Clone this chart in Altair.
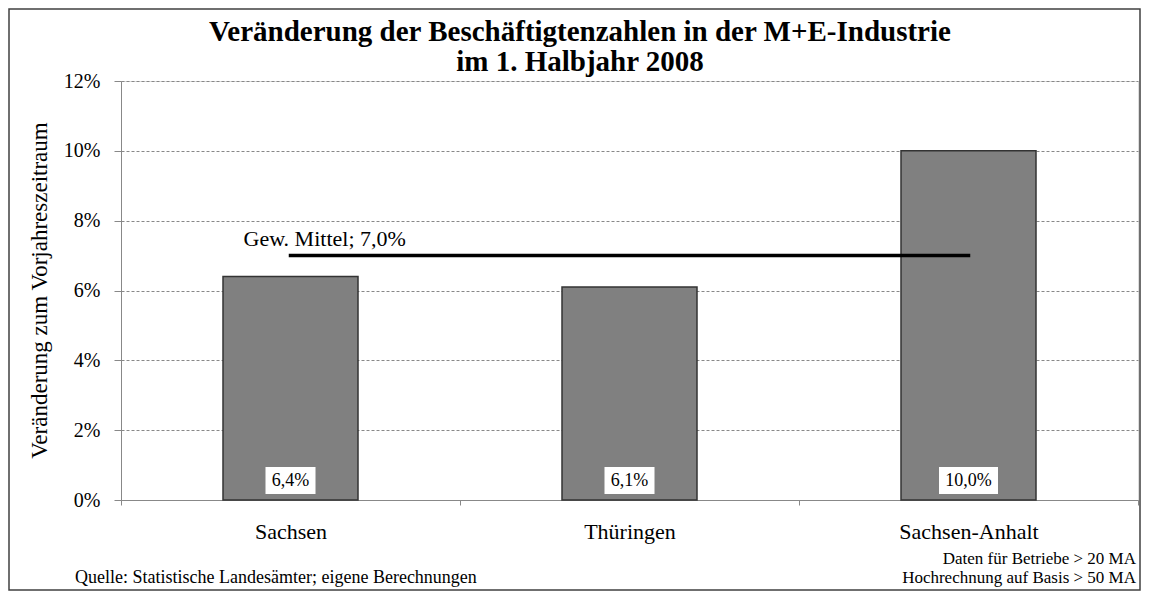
import altair as alt
import pandas as pd

regions = ["Sachsen", "Thüringen", "Sachsen-Anhalt"]
changes = [6.4, 6.1, 10.0]
mean_value = 7.0
mean_label = "Gew. Mittel; 7,0%"
title_line_1 = "Veränderung der Beschäftigtenzahlen in der M+E-Industrie"
title_line_2 = "im 1. Halbjahr 2008"
y_title = "Veränderung zum Vorjahreszeitraum"
note_right_1 = "Daten für Betriebe > 20 MA"
note_right_2 = "Hochrechnung auf Basis > 50 MA"
note_left = "Quelle: Statistische Landesämter; eigene Berechnungen"

FONT = "Liberation Serif"

df = pd.DataFrame({"region": regions, "value": changes})
df["mean"] = mean_value

W, H = 1017, 419

x_enc = alt.X("region:N", sort=regions, title=None,
              scale=alt.Scale(paddingInner=0, paddingOuter=0),
              axis=alt.Axis(labelAngle=0, labelFont=FONT, labelFontSize=22, labelColor="black",
                            labelPadding=16, tickBand="extent", tickSize=5, tickColor="#888",
                            domainColor="#888", grid=False))
y_enc = alt.Y("value:Q", title=y_title,
              scale=alt.Scale(domain=[0, 12], nice=False),
              axis=alt.Axis(values=[0, 2, 4, 6, 8, 10, 12], labelExpr="datum.value + '%'",
                            labelFont=FONT, labelFontSize=20, labelColor="black", labelPadding=14,
                            tickSize=7, tickColor="#888", domainColor="#888",
                            gridColor="#888", gridDash=[3, 2], gridWidth=1,
                            titleFont=FONT, titleFontSize=23, titleFontWeight="normal",
                            titleColor="black", titleX=-82, titleY=209,
                            titleAlign="center", titleBaseline="middle"))

base = alt.Chart(df)

bars = base.mark_bar(color="#808080", stroke="#333333", strokeWidth=1.5,
                     width=alt.RelativeBandSize(135 / 339)).encode(x=x_enc, y=y_enc)

label_df = base.transform_calculate(
    label="replace(format(datum.value, '.1f'), '.', ',') + '%'",
).transform_calculate(
    boxw="length(datum.label) * 9 + 14",
)

boxes = label_df.mark_bar(color="white").encode(
    x=alt.X("region:N", sort=regions),
    y=alt.value(386), y2=alt.value(413),
    size=alt.Size("boxw:Q", scale=None, legend=None),
)
box_text = label_df.mark_text(font=FONT, fontSize=18, baseline="middle", color="black").encode(
    x=alt.X("region:N", sort=regions),
    y=alt.value(400),
    text="label:N",
)

mean_line = base.mark_line(color="black", strokeWidth=3.5, strokeCap="square").encode(
    x=alt.X("region:N", sort=regions), y=alt.Y("mean:Q"))

mean_text = alt.Chart(pd.DataFrame({"region": [regions[0]], "mean": [mean_value], "t": [mean_label]})).mark_text(
    font=FONT, fontSize=22, align="left", baseline="middle", dx=-47, dy=-17, color="black"
).encode(x=alt.X("region:N", sort=regions), y=alt.Y("mean:Q"), text="t:N")

one = alt.Data(values=[{"k": 1}])


def deco_text(txt, x, y, size=19, align="left", weight="normal", baseline="middle"):
    return alt.Chart(one).mark_text(
        font=FONT, fontSize=size, align=align, baseline=baseline, color="black",
        fontWeight=weight, text=txt
    ).encode(x=alt.value(x), y=alt.value(y))


border = alt.Chart(one).mark_rect(fill="white", fillOpacity=0, stroke="#404040", strokeWidth=1.5).encode(
    x=alt.value(-112), x2=alt.value(1019), y=alt.value(-72), y2=alt.value(509))

title1 = deco_text(title_line_1, 459, -40, size=29, align="center", weight="bold", baseline="alphabetic")
title2 = deco_text(title_line_2, 459, -10, size=29, align="center", weight="bold", baseline="alphabetic")
note_r1 = deco_text(note_right_1, 1015, 478, size=17, align="right")
note_r2 = deco_text(note_right_2, 1015, 497, size=17, align="right")
note_l = deco_text(note_left, -46, 497, size=18)

chart = alt.layer(bars, mean_line, mean_text, boxes, box_text, border,
                  title1, title2, note_r1, note_r2, note_l).properties(
    width=W, height=H,
    autosize=alt.AutoSizeParams(type="none"),
    padding={"left": 113, "top": 73, "right": 3, "bottom": 91},
).configure_view(stroke=None).configure(background="white")

chart.save("out.html", embed_options={"renderer": "svg", "actions": False})
